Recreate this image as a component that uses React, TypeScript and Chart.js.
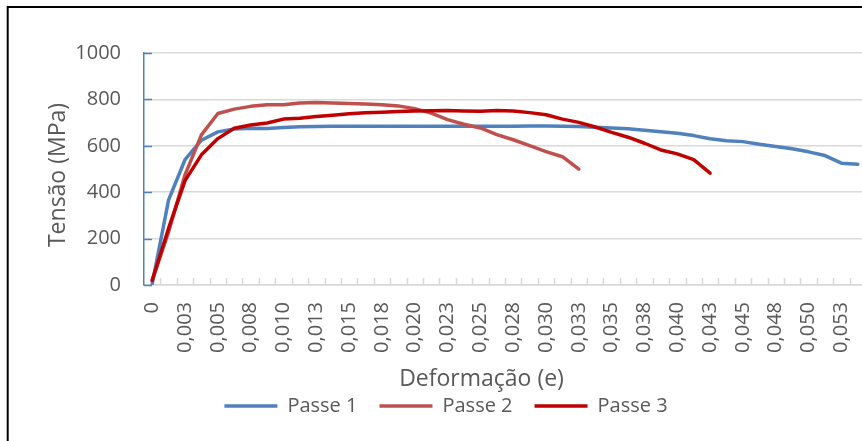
import React, { useEffect, useRef } from "react";
import { Chart, registerables } from "chart.js";

Chart.register(...registerables);

const categories: string[] = [
  "0", "0,001", "0,003", "0,004", "0,005", "0,006", "0,008", "0,009", "0,010", "0,011",
  "0,013", "0,014", "0,015", "0,016", "0,018", "0,019", "0,020", "0,021", "0,023", "0,024",
  "0,025", "0,026", "0,028", "0,029", "0,030", "0,031", "0,033", "0,034", "0,035", "0,036",
  "0,038", "0,039", "0,040", "0,041", "0,043", "0,044", "0,045", "0,046", "0,048", "0,049",
  "0,050", "0,051", "0,053", "0,054",
];

const passe1: number[] = [
  5, 367, 540, 624, 660, 672, 676, 675, 679, 682,
  683, 684, 684, 684, 684, 684, 684, 684, 684, 684,
  684, 684, 684, 685, 685, 684, 683, 680, 677, 673,
  667, 661, 654, 644, 630, 622, 618, 607, 597, 587,
  574, 558, 525, 521,
];

const passe2: number[] = [
  20, 230, 475, 647, 739, 758, 770, 777, 777, 784,
  787, 785, 782, 780, 777, 772, 760, 741, 713, 693,
  677, 648, 626, 601, 575, 553, 499,
];

const passe3: number[] = [
  20, 245, 450, 561, 631, 676, 690, 698, 715, 719,
  726, 732, 738, 742, 745, 748, 750, 751, 752, 750,
  749, 752, 750, 743, 734, 715, 701, 681, 658, 637,
  611, 582, 565, 540, 482,
];

const seriesNames: string[] = ["Passe 1", "Passe 2", "Passe 3"];
const seriesColors: string[] = ["#4F81BD", "#C0504D", "#C00000"];
const yTitle = "Tensão (MPa)";
const xTitle = "Deformação (e)";

const FONT = "'Open Sans', 'Noto Sans', sans-serif";
const TEXT = "#595959";
const GRID = "#d9d9d9";

const decorPlugin = {
  id: "decor",
  beforeDraw(chart: any) {
    const ctx = chart.ctx;
    ctx.save();
    ctx.fillStyle = "#ffffff";
    ctx.fillRect(0, 0, chart.width, chart.height);
    ctx.strokeStyle = "#000000";
    ctx.lineWidth = 2;
    ctx.beginPath();
    ctx.moveTo(7.7, chart.height + 5);
    ctx.lineTo(7.7, 7);
    ctx.lineTo(chart.width + 5, 7);
    ctx.stroke();
    ctx.restore();
  },
  beforeDatasetsDraw(chart: any) {
    const ctx = chart.ctx;
    const xs = chart.scales.x;
    const ys = chart.scales.y;
    const area = chart.chartArea;
    ctx.save();
    // inside tick marks on the value axis
    ctx.strokeStyle = seriesColors[0];
    ctx.lineWidth = 1.5;
    ys.ticks.forEach((t: any) => {
      const y = Math.round(ys.getPixelForValue(t.value)) + 0.5;
      ctx.beginPath();
      ctx.moveTo(area.left, y);
      ctx.lineTo(area.left + 8, y);
      ctx.stroke();
    });
    // inside tick marks on the category axis, between categories
    const step = xs.getPixelForValue(1) - xs.getPixelForValue(0);
    ctx.strokeStyle = GRID;
    for (let i = 1; i <= categories.length; i++) {
      const x = Math.round(xs.getPixelForValue(i) - step / 2) + 0.5;
      ctx.beginPath();
      ctx.moveTo(x, area.bottom - 7);
      ctx.lineTo(x, area.bottom);
      ctx.stroke();
    }
    ctx.restore();
  },
  afterDraw(chart: any) {
    const ctx = chart.ctx;
    const area = chart.chartArea;
    ctx.save();
    ctx.fillStyle = TEXT;
    ctx.font = `23px ${FONT}`;
    ctx.textAlign = "center";
    ctx.textBaseline = "alphabetic";
    ctx.fillText(xTitle, 481.5, area.bottom + 101);
    ctx.translate(65, (area.top + area.bottom) / 2 + 6);
    ctx.rotate(-Math.PI / 2);
    ctx.fillText(yTitle, 0, 0);
    ctx.restore();
  },
};

export default function App() {
  const ref = useRef<HTMLCanvasElement | null>(null);

  useEffect(() => {
    if (!ref.current) return;
    const series = [passe1, passe2, passe3];
    const chart = new Chart(ref.current, {
      type: "line",
      data: {
        labels: categories,
        datasets: series.map((d, i) => ({
          label: seriesNames[i],
          data: d,
          borderColor: seriesColors[i],
          backgroundColor: seriesColors[i],
          borderWidth: 3.5,
          pointRadius: 0,
          pointHoverRadius: 0,
          tension: 0,
          fill: false,
          borderCapStyle: "round" as const,
          borderJoinStyle: "round" as const,
          order: 3 - i,
        })),
      },
      options: {
        animation: false,
        responsive: false,
        devicePixelRatio: 1,
        layout: { padding: { left: 26, right: 14, top: 53, bottom: 15 } },
        plugins: {
          tooltip: { enabled: false },
          legend: {
            position: "bottom",
            labels: {
              usePointStyle: true,
              pointStyle: "line",
              pointStyleWidth: 53,
              padding: 22,
              color: TEXT,
              font: { family: FONT, size: 20 },
              sort: (a: any, b: any) => a.datasetIndex - b.datasetIndex,
            },
          },
        },
        scales: {
          x: {
            type: "category",
            offset: true,
            grid: { display: false, drawTicks: false, offset: true },
            border: { display: true, color: GRID, width: 1.5 },
            ticks: {
              autoSkip: false,
              maxRotation: 90,
              minRotation: 90,
              padding: 17,
              color: TEXT,
              font: { family: FONT, size: 20 },
              callback: (_v: any, i: number) => (i % 2 === 0 ? categories[i] : ""),
            },
            afterFit: (scale: any) => {
              scale.height = 89;
              scale.paddingLeft = 0;
              scale.paddingRight = 0;
            },
          },
          y: {
            min: 0,
            max: 1000,
            grid: { color: GRID, lineWidth: 1.5, drawTicks: false },
            border: { display: true, color: seriesColors[0], width: 1.5 },
            ticks: {
              stepSize: 200,
              padding: 23,
              color: TEXT,
              font: { family: FONT, size: 20 },
              callback: (v: any) => String(v),
            },
            afterFit: (scale: any) => {
              scale.width = 118;
            },
          },
        },
      },
      plugins: [decorPlugin],
    });
    return () => chart.destroy();
  }, []);

  return (
    <div
      style={{
        position: "fixed",
        left: 0,
        top: 0,
        width: 862,
        height: 441,
        overflow: "hidden",
        background: "#fff",
      }}
    >
      <canvas ref={ref} width={880} height={441} style={{ display: "block", width: 880, height: 441 }} />
    </div>
  );
}
